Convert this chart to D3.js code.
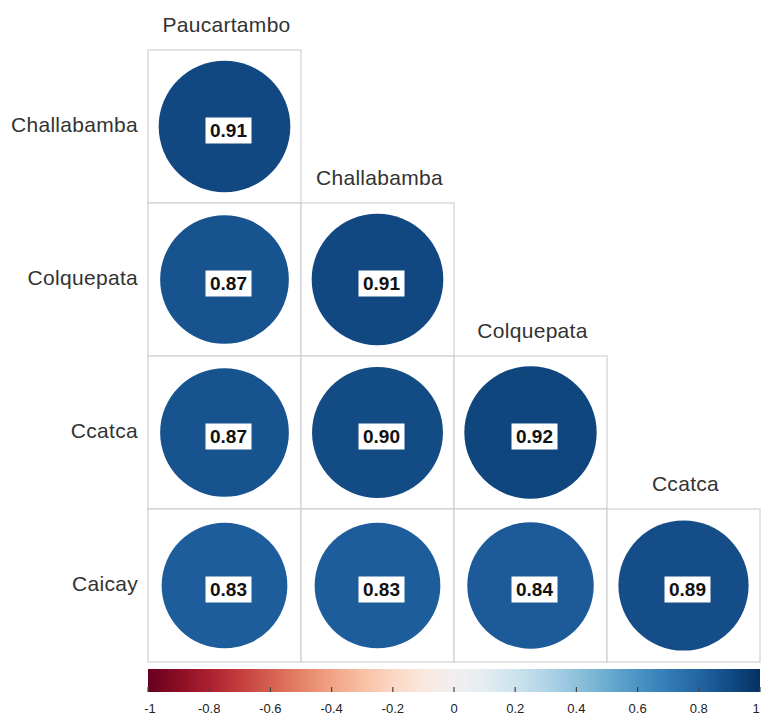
<!DOCTYPE html>
<html>
<head>
<meta charset="utf-8">
<script src="https://cdn.jsdelivr.net/npm/d3@7"></script>
<style>
  body { margin: 0; background: #fff; }
  #chart { width: 761px; height: 718px; }
</style>
</head>
<body>
<div id="chart"></div>
<script>
// station names: columns across the top, rows down the left
const colNames = ["Paucartambo", "Challabamba", "Colquepata", "Ccatca"];
const rowNames = ["Challabamba", "Colquepata", "Ccatca", "Caicay"];

// lower triangle of the correlation matrix, one array per row
const rowChallabamba = [0.91];
const rowColquepata = [0.87, 0.91];
const rowCcatca = [0.87, 0.90, 0.92];
const rowCaicay = [0.83, 0.83, 0.84, 0.89];

const legendTicks = [-1, -0.8, -0.6, -0.4, -0.2, 0, 0.2, 0.4, 0.6, 0.8, 1];

const rowsValues = [rowChallabamba, rowColquepata, rowCcatca, rowCaicay];
const cells = [];
rowsValues.forEach((vals, i) => {
  vals.forEach((v, j) => cells.push({row: rowNames[i], col: colNames[j], r: i, c: j, value: v}));
});

const W = 761, H = 718;
const svg = d3.select("#chart").append("svg")
  .attr("width", W).attr("height", H);

const x = d3.scaleBand().domain(colNames).range([148, 760]).padding(0);
const y = d3.scaleBand().domain(rowNames).range([50, 662]).padding(0);
const color = v => d3.interpolateRdBu((v + 1) / 2);
const rad = d3.scaleSqrt().domain([0, 1]).range([0, 69]);

const font = "'Liberation Sans', Arial, sans-serif";

// cell borders
svg.selectAll("rect.cell")
  .data(cells)
  .join("rect")
  .attr("class", "cell")
  .attr("x", d => x(d.col))
  .attr("y", d => y(d.row))
  .attr("width", x.bandwidth())
  .attr("height", y.bandwidth())
  .attr("fill", "#fff")
  .attr("stroke", "#d0d0d0")
  .attr("stroke-width", 1.2);

// circles
svg.selectAll("circle.corr")
  .data(cells)
  .join("circle")
  .attr("class", "corr")
  .attr("cx", d => x(d.col) + x.bandwidth() / 2)
  .attr("cy", d => y(d.row) + y.bandwidth() / 2)
  .attr("r", d => rad(Math.abs(d.value)))
  .attr("fill", d => color(d.value));

// value labels with white boxes
const lab = svg.selectAll("g.lab")
  .data(cells)
  .join("g")
  .attr("class", "lab")
  .attr("transform", d => `translate(${x(d.col) + x.bandwidth() / 2 + 4},${y(d.row) + y.bandwidth() / 2 + 4})`);

lab.append("rect")
  .attr("x", -23).attr("y", -13)
  .attr("width", 46).attr("height", 26)
  .attr("fill", "#fff");

lab.append("text")
  .attr("text-anchor", "middle")
  .attr("dy", "0.36em")
  .style("font-family", font)
  .style("font-weight", "bold")
  .style("font-size", "19px")
  .style("fill", "#111")
  .text(d => d.value.toFixed(2));

// row labels
svg.selectAll("text.rowlab")
  .data(rowNames)
  .join("text")
  .attr("class", "rowlab")
  .attr("x", 138)
  .attr("y", d => y(d) + y.bandwidth() / 2 - 2)
  .attr("text-anchor", "end")
  .attr("dy", "0.35em")
  .style("font-family", font)
  .style("font-size", "21px")
  .style("letter-spacing", "0.3px")
  .style("fill", "#333")
  .text(d => d);

// column labels sit above the diagonal cell of each column
svg.selectAll("text.collab")
  .data(colNames)
  .join("text")
  .attr("class", "collab")
  .attr("x", d => x(d) + x.bandwidth() / 2 + 2)
  .attr("y", (d, i) => y(rowNames[i]) - 18)
  .attr("text-anchor", "middle")
  .style("font-family", font)
  .style("font-size", "21px")
  .style("letter-spacing", "0.3px")
  .style("fill", "#333")
  .text(d => d);

// color legend
const lx = d3.scaleLinear().domain([-1, 1]).range([148, 760]);
const defs = svg.append("defs");
const grad = defs.append("linearGradient").attr("id", "rdbu")
  .attr("x1", "0%").attr("x2", "100%").attr("y1", "0%").attr("y2", "0%");
d3.range(0, 1.0001, 0.05).forEach(t => {
  grad.append("stop").attr("offset", `${t * 100}%`).attr("stop-color", d3.interpolateRdBu(t));
});
svg.append("rect")
  .attr("x", lx(-1)).attr("y", 669)
  .attr("width", lx(1) - lx(-1)).attr("height", 23)
  .attr("fill", "url(#rdbu)");

svg.selectAll("line.ltick")
  .data(legendTicks)
  .join("line")
  .attr("class", "ltick")
  .attr("x1", d => lx(d)).attr("x2", d => lx(d))
  .attr("y1", 687).attr("y2", 692)
  .attr("stroke", "#444")
  .attr("stroke-width", 1.2);

svg.selectAll("text.llab")
  .data(legendTicks)
  .join("text")
  .attr("class", "llab")
  .attr("x", d => d === 1 ? lx(d) - 4 : (d === -1 ? lx(d) + 2 : lx(d)))
  .attr("y", 713)
  .attr("text-anchor", "middle")
  .style("font-family", font)
  .style("font-size", "13px")
  .style("fill", "#222")
  .text(d => d3.format("")(d).replace("−", "-"));
</script>
</body>
</html>
